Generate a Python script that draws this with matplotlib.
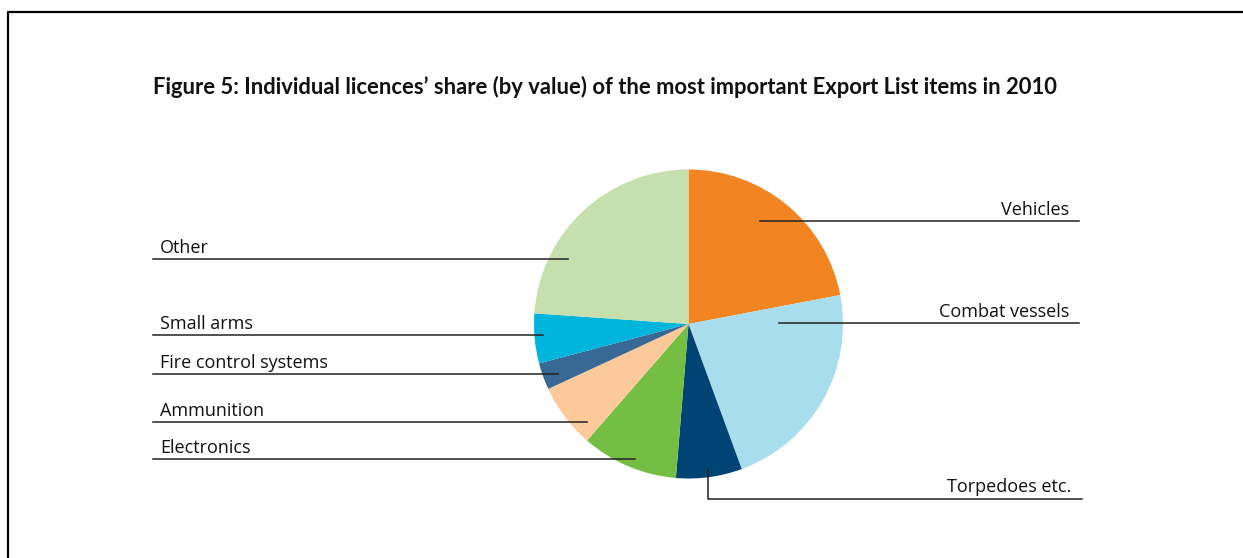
import matplotlib.pyplot as plt
from matplotlib.lines import Line2D

# Share of individual licences by value, 2010 (percent)
categories = ["Vehicles", "Combat vessels", "Torpedoes etc.", "Electronics",
              "Ammunition", "Fire control systems", "Small arms", "Other"]
shares = [22.0, 22.4, 6.9, 10.1, 6.7, 2.8, 5.2, 23.9]
colors = ["#F28522", "#A8DDEE", "#004375", "#75BE44",
          "#FBC99A", "#386894", "#00B5DB", "#C5E0AE"]

W, H = 1243, 558
fig = plt.figure(figsize=(W / 100, H / 100), dpi=100)
ax = fig.add_axes([0, 0, 1, 1])
ax.set_aspect("equal")

def py(y):
    # pixel row (from top) -> data y
    return H - y

cx, cy, r = 688.5, py(324), 154.5
ax.pie(shares, colors=colors, startangle=90, counterclock=False,
       center=(cx, cy), radius=r, wedgeprops=dict(linewidth=0),
       frame=True)
ax.set_xlim(0, W)
ax.set_ylim(0, H)
ax.axis("off")

# frame: top and left edges only
ax.add_line(Line2D([8, 8, W], [0, py(11.5), py(11.5)], color="black", lw=1.6))

title = "Figure 5: Individual licences’ share (by value) of the most important Export List items in 2010"
ax.text(153, py(87), title, fontsize=15.8, fontweight="bold", family="Lato",
        ha="left", va="center", color="#111111")

lc = "#222222"
font = dict(fontsize=13, family="Open Sans", color="#111111")

# right side labels: (label index, line start x, line y, line end x)
right = [(0, 760, 221, 1079), (1, 779, 323, 1079)]
for i, x0, yl, x1 in right:
    ax.plot([x0, x1], [py(yl), py(yl)], color=lc, lw=1.1)
    ax.text(x1 - 10, py(yl - 6), categories[i], ha="right", va="baseline", **font)

# torpedoes: vertical drop then horizontal
ax.plot([708.3, 708.3, 1082], [py(470), py(499), py(499)], color=lc, lw=1.1)
ax.text(1071, py(492), categories[2], ha="right", va="baseline", **font)

# left side labels
left = [(7, 568, 259), (6, 543, 335), (5, 558, 374), (4, 587, 422), (3, 635, 459)]
for i, x1, yl in left:
    ax.plot([153, x1], [py(yl), py(yl)], color=lc, lw=1.1)
    ax.text(160, py(yl - 6), categories[i], ha="left", va="baseline", **font)

fig.savefig("out.png", dpi=100, facecolor="white")
